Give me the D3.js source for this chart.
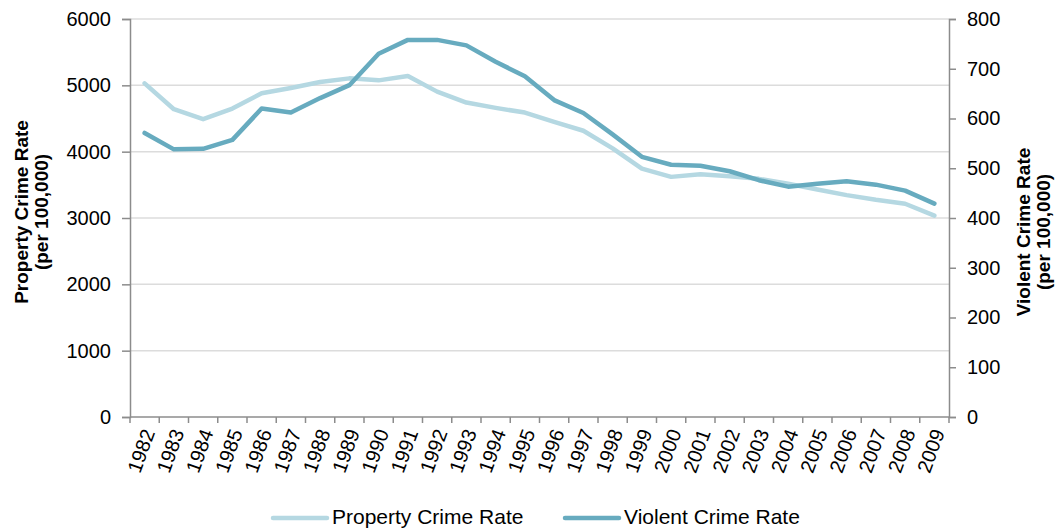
<!DOCTYPE html>
<html>
<head>
<meta charset="utf-8">
<script src="https://cdn.jsdelivr.net/npm/d3@7"></script>
<style>
  body { margin: 0; background: #fff; }
  text { font-family: "Liberation Sans", Arial, sans-serif; fill: #000; }
</style>
</head>
<body>
<div id="chart"></div>
<script>
const years = ["1982","1983","1984","1985","1986","1987","1988","1989","1990","1991",
  "1992","1993","1994","1995","1996","1997","1998","1999","2000","2001",
  "2002","2003","2004","2005","2006","2007","2008","2009"];

const propertyRate = [5030, 4640, 4490, 4650, 4880, 4960, 5050, 5105, 5075, 5140,
  4905, 4740, 4660, 4590, 4450, 4315, 4050, 3745, 3620, 3660,
  3630, 3590, 3515, 3430, 3345, 3275, 3215, 3035];

const violentRate = [571, 538, 539, 557, 620, 612, 641, 667, 730, 758,
  758, 747, 714, 685, 637, 611, 568, 523, 507, 505,
  494, 476, 463, 469, 474, 467, 455, 429];

const leftTicks = [0, 1000, 2000, 3000, 4000, 5000, 6000];
const rightTicks = [0, 100, 200, 300, 400, 500, 600, 700, 800];

const seriesNames = ["Property Crime Rate", "Violent Crime Rate"];
const seriesColors = ["#b5d8e2", "#67abbf"];

const width = 1062;
const height = 529;
const margin = { left: 130, right: 113, top: 19, bottom: 112 };
const axisColor = "#8c8c8c";

const svg = d3.select("#chart").append("svg")
  .attr("width", width)
  .attr("height", height);

const x = d3.scaleBand()
  .domain(years)
  .range([margin.left, width - margin.right]);

const yLeft = d3.scaleLinear()
  .domain([0, 6000])
  .range([height - margin.bottom, margin.top]);

const yRight = d3.scaleLinear()
  .domain([0, 800])
  .range([height - margin.bottom, margin.top]);

const x0 = margin.left, x1 = width - margin.right, yBase = height - margin.bottom;

// gridlines
svg.append("g")
  .selectAll("line")
  .data(leftTicks.filter(d => d > 0))
  .join("line")
    .attr("x1", x0).attr("x2", x1)
    .attr("y1", d => yLeft(d)).attr("y2", d => yLeft(d))
    .attr("stroke", "#dcdcdc")
    .attr("stroke-width", 1.5);

// left axis
const gl = svg.append("g").attr("transform", `translate(${x0},0)`)
  .call(d3.axisLeft(yLeft).tickValues(leftTicks).tickSize(8).tickPadding(11).tickFormat(d3.format("d")));
gl.select(".domain").attr("stroke", axisColor).attr("stroke-width", 1.5);
gl.selectAll(".tick line").attr("stroke", axisColor).attr("stroke-width", 1.5);
gl.selectAll(".tick text").style("font-size", "20px").attr("fill", "#000");

// right axis
const gr = svg.append("g").attr("transform", `translate(${x1},0)`)
  .call(d3.axisRight(yRight).tickValues(rightTicks).tickSize(7).tickPadding(11).tickFormat(d3.format("d")));
gr.select(".domain").attr("stroke", axisColor).attr("stroke-width", 1.5);
gr.selectAll(".tick line").attr("stroke", axisColor).attr("stroke-width", 1.5);
gr.selectAll(".tick text").style("font-size", "20px").attr("fill", "#000");

// bottom axis line and ticks at category boundaries
svg.append("line")
  .attr("x1", x0).attr("x2", x1)
  .attr("y1", yBase).attr("y2", yBase)
  .attr("stroke", axisColor).attr("stroke-width", 1.5);

svg.append("g")
  .selectAll("line")
  .data(years.map(d => x(d)).concat([x1]))
  .join("line")
    .attr("x1", d => d).attr("x2", d => d)
    .attr("y1", yBase).attr("y2", yBase + 6)
    .attr("stroke", axisColor).attr("stroke-width", 1.5);

// year labels
svg.append("g")
  .selectAll("text")
  .data(years)
  .join("text")
    .attr("transform", d => `translate(${x(d) + x.bandwidth() / 2 + 4},${yBase + 13}) rotate(-70)`)
    .attr("text-anchor", "end")
    .attr("dy", "0.35em")
    .style("font-size", "20px")
    .text(d => d);

// lines
const lineLeft = d3.line()
  .x((d, i) => x(years[i]) + x.bandwidth() / 2)
  .y(d => yLeft(d));

const lineRight = d3.line()
  .x((d, i) => x(years[i]) + x.bandwidth() / 2)
  .y(d => yRight(d));

svg.append("path")
  .datum(propertyRate)
  .attr("d", lineLeft)
  .attr("fill", "none")
  .attr("stroke", seriesColors[0])
  .attr("stroke-width", 4.5)
  .attr("stroke-linejoin", "round")
  .attr("stroke-linecap", "round");

svg.append("path")
  .datum(violentRate)
  .attr("d", lineRight)
  .attr("fill", "none")
  .attr("stroke", seriesColors[1])
  .attr("stroke-width", 4.5)
  .attr("stroke-linejoin", "round")
  .attr("stroke-linecap", "round");

// axis titles
const leftTitle = svg.append("text")
  .attr("transform", "translate(28,212) rotate(-90)")
  .attr("text-anchor", "middle")
  .style("font-size", "19px")
  .style("font-weight", "700");
leftTitle.append("tspan").attr("x", 0).attr("dy", 0).text("Property Crime Rate");
leftTitle.append("tspan").attr("x", 0).attr("dy", "1.05em").text("(per 100,000)");

const rightTitle = svg.append("text")
  .attr("transform", "translate(1030,232) rotate(-90)")
  .attr("text-anchor", "middle")
  .style("font-size", "19px")
  .style("font-weight", "700");
rightTitle.append("tspan").attr("x", 0).attr("dy", 0).text("Violent Crime Rate");
rightTitle.append("tspan").attr("x", 0).attr("dy", "1.05em").text("(per 100,000)");

// legend
const legendX = [273, 565];
const legend = svg.append("g");
seriesNames.forEach((name, i) => {
  legend.append("line")
    .attr("x1", legendX[i]).attr("x2", legendX[i] + 54)
    .attr("y1", 518).attr("y2", 518)
    .attr("stroke", seriesColors[i])
    .attr("stroke-width", 4.5)
    .attr("stroke-linecap", "round");
  legend.append("text")
    .attr("x", legendX[i] + 59)
    .attr("y", 524)
    .style("font-size", "21px")
    .text(name);
});
</script>
</body>
</html>
